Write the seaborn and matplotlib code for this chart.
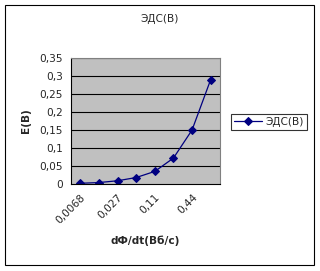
import matplotlib
matplotlib.use("Agg")
import matplotlib.pyplot as plt
import seaborn as sns
import pandas as pd
import numpy as np
from matplotlib.patches import Rectangle

categories = ["0,0068", "0,0136", "0,027", "0,054", "0,11", "0,22", "0,44", "0,88"]
emf = [0.002, 0.004, 0.009, 0.018, 0.035, 0.072, 0.15, 0.29]
shown_labels = ["0,0068", "0,027", "0,11", "0,44"]
yticks = [0, 0.05, 0.1, 0.15, 0.2, 0.25, 0.3, 0.35]
ytick_labels = ["0", "0,05", "0,1", "0,15", "0,2", "0,25", "0,3", "0,35"]

sns.set_style("white")
plt.rcParams["font.family"] = ["DejaVu Sans"]
FS = 7.6

df = pd.DataFrame({"pos": np.arange(len(categories)), "E": emf, "cat": categories})

fig = plt.figure(figsize=(3.2, 2.71), dpi=100)
ax = fig.add_axes([71/320, 1-184/271, 149/320, 126/271])
ax.set_facecolor("#C0C0C0")

sns.lineplot(data=df, x="pos", y="E", ax=ax, color="#000080", marker="D",
             markersize=4.5, markeredgecolor="#000080", linewidth=0.9, label="ЭДС(B)",
             legend=False)

ax.set_xlim(-0.5, len(categories) - 0.5)
ax.set_ylim(0, 0.35)
ax.set_yticks(yticks)
ax.set_yticklabels(ytick_labels, fontsize=FS)
for y in yticks[1:]:
    ax.axhline(y, color="black", linewidth=0.8, zorder=1)

ax.set_xticks(np.arange(-0.5, len(categories)), minor=True)
ax.set_xticks([categories.index(c) for c in shown_labels])
ax.set_xticklabels(shown_labels, rotation=45, ha="right", rotation_mode="anchor", fontsize=FS)
ax.tick_params(axis="x", which="major", length=0, pad=6)
ax.tick_params(axis="x", which="minor", length=4, width=0.8, color="black", direction="out")
ax.tick_params(axis="y", length=4, width=0.8, color="black", direction="out", pad=2)

for s in ["top", "right"]:
    ax.spines[s].set_color("#808080")
    ax.spines[s].set_linewidth(0.8)
for s in ["left", "bottom"]:
    ax.spines[s].set_color("black")
    ax.spines[s].set_linewidth(0.8)

ax.set_xlabel("dФ/dt(Вб/с)", fontsize=FS, fontweight="bold")
ax.set_ylabel("E(B)", fontsize=FS, fontweight="bold", labelpad=6)
ax.xaxis.set_label_coords(0.5, -0.41)

fig.text(160/320, 1-19/271, "ЭДС(B)", ha="center", va="center", fontsize=FS)

handles, labels = ax.get_legend_handles_labels()
leg = fig.legend(handles, labels, loc="center left", bbox_to_anchor=(231/320, 1-122/271),
                 fontsize=FS, frameon=True, fancybox=False, edgecolor="black",
                 borderpad=0.3, handlelength=2.6, handletextpad=0.4, borderaxespad=0)
leg.get_frame().set_linewidth(0.8)

fig.patches.append(Rectangle((5/320, 1-265/271), 309/320, 260/271, transform=fig.transFigure,
                             fill=False, edgecolor="black", linewidth=0.8))

fig.savefig("out.png", dpi=100)
